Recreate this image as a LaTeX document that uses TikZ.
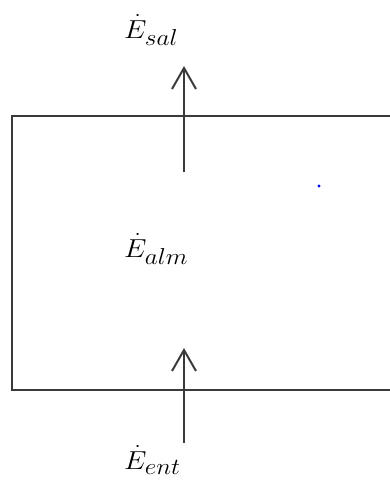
\RequirePackage{fix-cm}
\documentclass[tikz,border=0pt]{standalone}
\usepackage{amsmath}
\usepackage{graphicx}
\usetikzlibrary{arrows.meta}
\DeclareMathSizes{26}{26}{23}{18}
\definecolor{linegray}{HTML}{3A3A3A}
\newcommand{\elabel}[1]{\scalebox{1.1}[1]{$\dot{E}_{#1}$}}
\begin{document}
\fontsize{26}{30}\selectfont
\begin{tikzpicture}[x=1pt,y=-1pt,
  wall/.style={draw=linegray,line width=2pt,line cap=rect,line join=miter},
  flow/.style={draw=linegray,line width=2pt,-{Straight Barb[length=21pt,width=24pt,line width=2pt]}},
  lbl/.style={anchor=base west,inner sep=0pt,text=black,font=\fontsize{26}{30}\selectfont}]
\useasboundingbox (0,0) rectangle (389,482);
% control volume (open on the right)
\coordinate (tr) at (392,116);
\coordinate (tl) at (12,116);
\coordinate (bl) at (12,390);
\coordinate (br) at (392,390);
\draw[wall] (tr) -- (tl) -- (bl) -- (br);
% flows
\coordinate (outS) at (184,172);
\coordinate (outE) at (184,66);
\coordinate (inS) at (184,443);
\coordinate (inE) at (184,348);
\draw[flow] (outS) -- (outE);
\draw[flow] (inS) -- (inE);
% labels
\node[lbl] (esal) at (124,38) {\elabel{sal}};
\node[lbl] (ealm) at (124,257) {\elabel{alm}};
\node[lbl] (eent) at (124,469) {\elabel{ent}};
% stray dot
\fill[blue] (319,186) circle (1.7pt);
\end{tikzpicture}
\end{document}
